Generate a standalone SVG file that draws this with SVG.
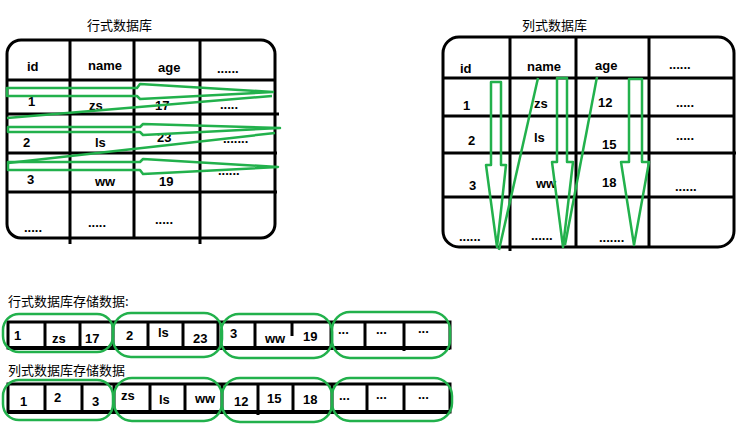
<svg xmlns="http://www.w3.org/2000/svg" width="742" height="441" viewBox="0 0 742 441">
<style>
.bg{fill:#ffffff}
.ln{stroke:#000;stroke-width:3;fill:none}
.box{stroke:#000;stroke-width:3;fill:none}
.g{stroke:#22b14c;stroke-width:2.5;fill:none;stroke-linejoin:round}
.t{font-family:"Liberation Sans",Arial,sans-serif;font-size:13px;font-weight:bold;fill:#000}
.cn{font-family:"Noto Sans CJK SC","Noto Sans",sans-serif;font-size:13px;fill:#000}
</style>
<rect class="bg" x="0" y="0" width="742" height="441"/>

<g id="row-table">
<text class="cn" x="87" y="30">行式数据库</text>
<rect class="box" x="7" y="40" width="268" height="198" rx="14"/>
<line class="ln" x1="70" y1="40" x2="70" y2="244"/>
<line class="ln" x1="134" y1="40" x2="134" y2="238"/>
<line class="ln" x1="200" y1="40" x2="200" y2="244"/>
<line class="ln" x1="7" y1="80" x2="275" y2="80"/>
<line class="ln" x1="7" y1="114" x2="279" y2="114"/>
<line class="ln" x1="7" y1="153" x2="277" y2="153"/>
<line class="ln" x1="7" y1="192" x2="277" y2="192"/>
<text class="t" x="27" y="71">id</text>
<text class="t" x="88" y="70">name</text>
<text class="t" x="158" y="72">age</text>
<text class="t" x="217" y="73">......</text>
<text class="t" x="28" y="106">1</text>
<text class="t" x="89" y="110">zs</text>
<text class="t" x="155" y="110">17</text>
<text class="t" x="220" y="109">.....</text>
<text class="t" x="23" y="147">2</text>
<text class="t" x="95" y="147">ls</text>
<text class="t" x="157" y="142">23</text>
<text class="t" x="223" y="143">.......</text>
<text class="t" x="27" y="184">3</text>
<text class="t" x="95" y="186">ww</text>
<text class="t" x="159" y="186">19</text>
<text class="t" x="218" y="175">......</text>
<text class="t" x="24" y="232">.....</text>
<text class="t" x="88" y="227">.....</text>
<text class="t" x="155" y="224">.....</text>
</g>

<g id="col-table">
<text class="cn" x="522" y="30">列式数据库</text>
<rect class="box" x="443" y="37" width="291" height="210" rx="16"/>
<line class="ln" x1="510" y1="37" x2="510" y2="251"/>
<line class="ln" x1="576" y1="37" x2="576" y2="246"/>
<line class="ln" x1="649" y1="37" x2="649" y2="247"/>
<line class="ln" x1="443" y1="78" x2="734" y2="78"/>
<line class="ln" x1="443" y1="116" x2="734" y2="116"/>
<line class="ln" x1="443" y1="153" x2="736" y2="153"/>
<line class="ln" x1="443" y1="197" x2="734" y2="197"/>
<text class="t" x="460" y="73">id</text>
<text class="t" x="527" y="71">name</text>
<text class="t" x="595" y="70">age</text>
<text class="t" x="669" y="69">......</text>
<text class="t" x="463" y="110">1</text>
<text class="t" x="534" y="108">zs</text>
<text class="t" x="598" y="107">12</text>
<text class="t" x="676" y="107">.....</text>
<text class="t" x="468" y="145">2</text>
<text class="t" x="534" y="142">ls</text>
<text class="t" x="602" y="149">15</text>
<text class="t" x="676" y="140">.....</text>
<text class="t" x="469" y="190">3</text>
<text class="t" x="536" y="188">ww</text>
<text class="t" x="602" y="187">18</text>
<text class="t" x="675" y="191">......</text>
<text class="t" x="459" y="241">......</text>
<text class="t" x="531" y="240">......</text>
<text class="t" x="599" y="242">.......</text>
</g>

<g id="row-storage">
<text class="cn" x="8" y="306">行式数据库存储数据:</text>
<rect class="box" x="8" y="322" width="442" height="26"/>
<line class="ln" x1="8" y1="348" x2="450" y2="348" style="stroke-width:4"/>
<line class="ln" x1="45" y1="322" x2="45" y2="350"/>
<line class="ln" x1="80" y1="322" x2="80" y2="348"/>
<line class="ln" x1="113" y1="322" x2="113" y2="348"/>
<line class="ln" x1="148" y1="322" x2="148" y2="350"/>
<line class="ln" x1="183" y1="322" x2="183" y2="350"/>
<line class="ln" x1="218" y1="322" x2="218" y2="348"/>
<line class="ln" x1="255" y1="322" x2="255" y2="348"/>
<line class="ln" x1="292" y1="322" x2="292" y2="336"/>
<line class="ln" x1="331" y1="322" x2="331" y2="348"/>
<line class="ln" x1="365" y1="322" x2="365" y2="348"/>
<line class="ln" x1="404" y1="322" x2="404" y2="351"/>
<text class="t" x="14" y="340">1</text>
<text class="t" x="52" y="343">zs</text>
<text class="t" x="85" y="343">17</text>
<text class="t" x="126" y="340">2</text>
<text class="t" x="158" y="337">ls</text>
<text class="t" x="193" y="343">23</text>
<text class="t" x="230" y="338">3</text>
<text class="t" x="265" y="343">ww</text>
<text class="t" x="303" y="341">19</text>
<text class="t" x="338" y="334">...</text>
<text class="t" x="376" y="334">...</text>
<text class="t" x="418" y="333">...</text>
<rect class="g" x="3" y="314" width="110" height="38" rx="16"/>
<rect class="g" x="113" y="313" width="109" height="44" rx="18"/>
<rect class="g" x="221" y="314" width="111" height="44" rx="18"/>
<rect class="g" x="332" y="312" width="118" height="46" rx="18"/>
</g>

<g id="col-storage">
<text class="cn" x="8" y="375">列式数据库存储数据</text>
<rect class="box" x="8" y="384" width="442" height="28"/>
<line class="ln" x1="8" y1="412" x2="450" y2="412" style="stroke-width:4"/>
<line class="ln" x1="45" y1="384" x2="45" y2="412"/>
<line class="ln" x1="82" y1="384" x2="82" y2="412"/>
<line class="ln" x1="114" y1="384" x2="114" y2="412"/>
<line class="ln" x1="150" y1="384" x2="150" y2="412"/>
<line class="ln" x1="185" y1="384" x2="185" y2="412"/>
<line class="ln" x1="222" y1="384" x2="222" y2="412"/>
<line class="ln" x1="258" y1="384" x2="258" y2="415"/>
<line class="ln" x1="293" y1="384" x2="293" y2="413"/>
<line class="ln" x1="332" y1="384" x2="332" y2="412"/>
<line class="ln" x1="367" y1="384" x2="367" y2="412"/>
<line class="ln" x1="404" y1="384" x2="404" y2="413"/>
<text class="t" x="20" y="406">1</text>
<text class="t" x="54" y="402">2</text>
<text class="t" x="92" y="406">3</text>
<text class="t" x="121" y="400">zs</text>
<text class="t" x="159" y="404">ls</text>
<text class="t" x="195" y="403">ww</text>
<text class="t" x="234" y="406">12</text>
<text class="t" x="267" y="403">15</text>
<text class="t" x="303" y="404">18</text>
<text class="t" x="339" y="400">...</text>
<text class="t" x="376" y="399">...</text>
<text class="t" x="418" y="399">...</text>
<rect class="g" x="3" y="380" width="110" height="40" rx="16"/>
<rect class="g" x="114" y="378" width="108" height="43" rx="18"/>
<rect class="g" x="222" y="378" width="110" height="44" rx="18"/>
<rect class="g" x="332" y="378" width="120" height="43" rx="18"/>
</g>

<g id="connectors">
<polygon class="g" points="7,88 137,88 140,84 273,92 140,99 137,96 7,96"/>
<line class="g" x1="272" y1="96" x2="7" y2="118"/>
<polygon class="g" points="8,127 140,127 143,124 280,128 143,135 140,132 8,132"/>
<line class="g" x1="275" y1="133" x2="8" y2="163"/>
<polygon class="g" points="8,162 140,162 143,159 278,167 143,174 140,170 8,170"/>
<polygon class="g" points="491,82 501,82 501,165 506,165 497,247 486,165 491,165"/>
<line class="g" x1="538" y1="78" x2="499" y2="250"/>
<polygon class="g" points="557,78 567,78 567,162 573,162 563,247 552,162 557,162"/>
<line class="g" x1="597" y1="77" x2="565" y2="245"/>
<polygon class="g" points="629,79 642,79 642,162 649,162 634,245 621,162 629,162"/>
</g>
</svg>
